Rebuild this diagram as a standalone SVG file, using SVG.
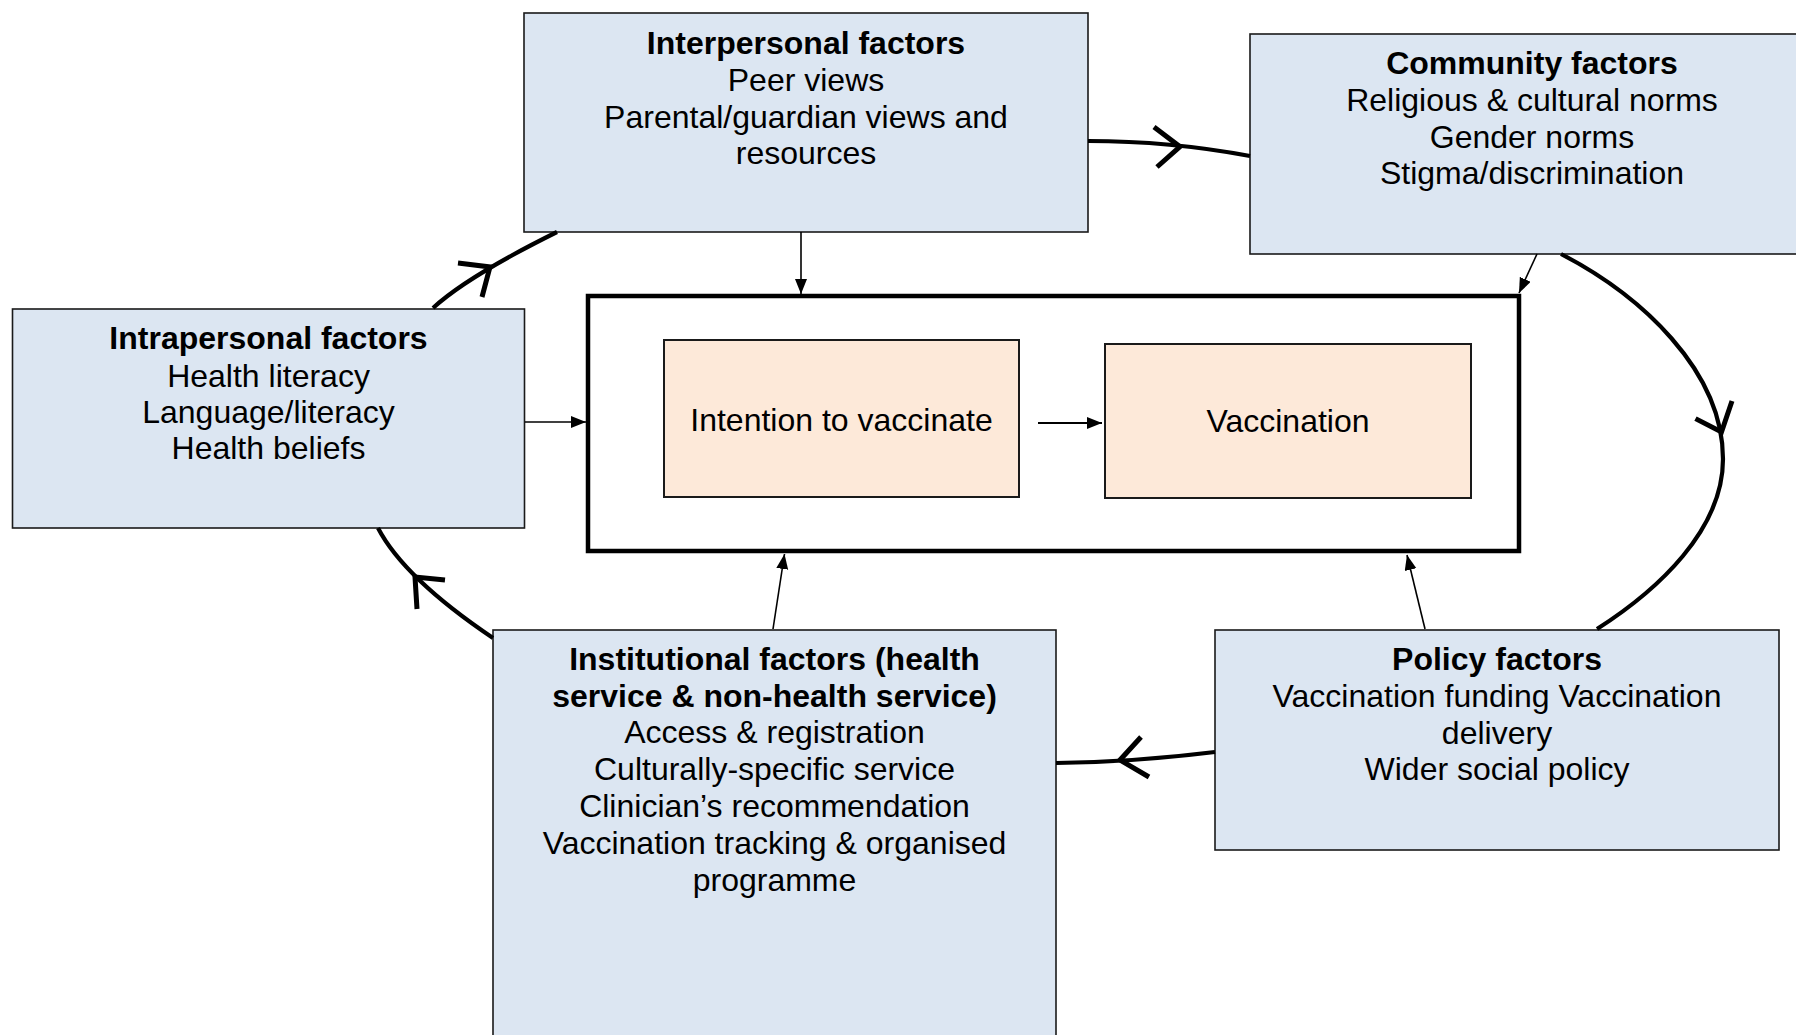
<svg xmlns="http://www.w3.org/2000/svg" width="1796" height="1035" viewBox="0 0 1796 1035">
<style>
.node{fill:#dce6f2;stroke:#1a1a1a;stroke-width:1.6}
.inner{fill:#fde9d9;stroke:#1a1a1a;stroke-width:2}
.outer{fill:#ffffff;stroke:#000;stroke-width:4.5}
text{font-family:"Liberation Sans",Arial,sans-serif;font-size:32px;fill:#000;text-anchor:middle}
.b{font-weight:bold}
.cyc{fill:none;stroke:#000;stroke-width:4.2}
.chev{fill:none;stroke:#000;stroke-width:5}
.thin{fill:none;stroke:#000;stroke-width:1.6;marker-end:url(#ah)}
.mid{fill:none;stroke:#000;stroke-width:2.2;marker-end:url(#ah)}
</style>
<defs>
<marker id="ah" markerUnits="userSpaceOnUse" markerWidth="16" markerHeight="14" refX="15" refY="6" orient="auto">
<path d="M0,0 L15,6 L0,12 Z" fill="#000"/>
</marker>
</defs>
<rect width="1796" height="1035" fill="#fff"/>
<g id="interpersonal">
<rect class="node" x="524" y="13" width="564" height="219"/>
<text class="b" x="806" y="54">Interpersonal factors</text>
<text x="806" y="91">Peer views</text>
<text x="806" y="128">Parental/guardian views and</text>
<text x="806" y="164">resources</text>
</g>
<g id="community">
<rect class="node" x="1250" y="34" width="566" height="220"/>
<text class="b" x="1532" y="74">Community factors</text>
<text x="1532" y="111">Religious &amp; cultural norms</text>
<text x="1532" y="148">Gender norms</text>
<text x="1532" y="184">Stigma/discrimination</text>
</g>
<g id="intrapersonal">
<rect class="node" x="12.5" y="309" width="512" height="219"/>
<text class="b" x="268.5" y="349">Intrapersonal factors</text>
<text x="268.5" y="387">Health literacy</text>
<text x="268.5" y="423">Language/literacy</text>
<text x="268.5" y="459">Health beliefs</text>
</g>
<g id="individual">
<rect class="outer" x="588" y="296" width="931" height="255"/>
</g>
<g id="intention">
<rect class="inner" x="664" y="340" width="355" height="157"/>
<text x="841.5" y="431">Intention to vaccinate</text>
</g>
<g id="vaccination">
<rect class="inner" x="1105" y="344" width="366" height="154"/>
<text x="1288" y="432">Vaccination</text>
</g>
<g id="institutional">
<rect class="node" x="493" y="630" width="563" height="420"/>
<text class="b" x="774.5" y="670">Institutional factors (health</text>
<text class="b" x="774.5" y="707">service &amp; non-health service)</text>
<text x="774.5" y="743">Access &amp; registration</text>
<text x="774.5" y="780">Culturally-specific service</text>
<text x="774.5" y="817">Clinician’s recommendation</text>
<text x="774.5" y="854">Vaccination tracking &amp; organised</text>
<text x="774.5" y="891">programme</text>
</g>
<g id="policy">
<rect class="node" x="1215" y="630" width="564" height="220"/>
<text class="b" x="1497" y="670">Policy factors</text>
<text x="1497" y="707">Vaccination funding Vaccination</text>
<text x="1497" y="744">delivery</text>
<text x="1497" y="780">Wider social policy</text>
</g>
<g id="connectors">
<path class="cyc" d="M433,308 Q467.5,276.3 557,232"/>
<path class="chev" d="M458,263 L490,267 L482,297"/>
<path class="cyc" d="M1088,141 Q1170,141 1250,156"/>
<path class="chev" d="M1154,127 L1180,146.7 L1157,167"/>
<path class="cyc" d="M1561,254 C1640,295 1723,370 1723,459 C1723,530 1658,590 1597,629"/>
<path class="chev" d="M1695.5,418.6 L1721.5,432 L1732,401"/>
<path class="cyc" d="M1215,752 Q1135,762 1056,763"/>
<path class="chev" d="M1141,737 L1120,760 L1149,777"/>
<path class="cyc" d="M493,638 Q404,578 378,528"/>
<path class="chev" d="M445,580 L415,577 L417,609"/>
<path class="thin" d="M801,232 L801,294"/>
<path class="thin" d="M525,422 L586,422"/>
<path class="mid" d="M1038,423 L1102,423"/>
<path class="thin" d="M1537,254 L1519,293"/>
<path class="thin" d="M773,629 L784.5,554"/>
<path class="thin" d="M1425,629 L1407,555"/>
</g>
</svg>
